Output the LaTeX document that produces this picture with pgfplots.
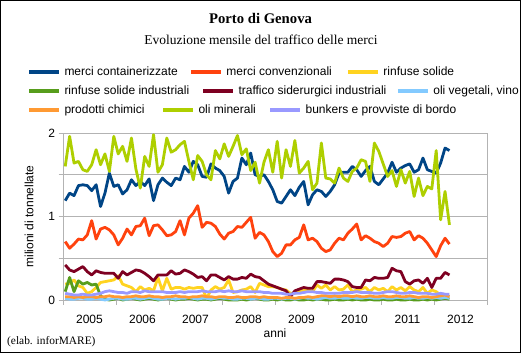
\documentclass[border=0pt]{standalone}
\usepackage{fontspec}
\setmainfont{Liberation Serif}
\newfontfamily\arial{Liberation Sans}
\usepackage{pgfplots}
\pgfplotsset{compat=1.18}
\usepackage{pgfplotstable}
\definecolor{cco}{HTML}{004586}
\definecolor{ccv}{HTML}{FF420E}
\definecolor{crs}{HTML}{FFD320}
\definecolor{crsi}{HTML}{579D1C}
\definecolor{cts}{HTML}{7E0021}
\definecolor{cov}{HTML}{83CAFF}
\definecolor{cpc}{HTML}{FF9A33}
\definecolor{com}{HTML}{AECF00}
\definecolor{cbk}{HTML}{9999FF}
\definecolor{gridgray}{HTML}{B3B3B3}
\newcommand{\arialf}{\arial\fontsize{12bp}{14bp}\selectfont}
\pgfplotstableread{
i co cv rs rsi ts ov pc om bk
0 1.19 0.70 0.19 0.10 0.42 0.02 0.04 1.60 0.08
1 1.28 0.62 0.20 0.27 0.36 0.01 0.04 1.96 0.07
2 1.25 0.67 0.24 0.10 0.34 0.01 0.03 1.64 0.06
3 1.37 0.73 0.17 0.23 0.37 0.02 0.04 1.66 0.06
4 1.38 0.72 0.15 0.19 0.40 0.02 0.03 1.56 0.07
5 1.37 0.78 0.08 0.21 0.34 0.01 0.04 1.54 0.06
6 1.31 0.95 0.10 0.18 0.30 0.01 0.04 1.62 0.06
7 1.38 0.73 0.15 0.19 0.35 0.02 0.03 1.80 0.07
8 1.12 0.85 0.21 0.05 0.33 0.01 0.04 1.62 0.08
9 1.28 0.87 0.22 0.01 0.32 0.00 0.04 1.75 0.10
10 1.52 0.84 0.23 0.00 0.32 0.01 0.05 1.54 0.11
11 1.36 0.78 0.24 0.01 0.32 0.02 0.04 1.96 0.10
12 1.38 0.66 0.29 0.02 0.26 0.02 0.04 1.75 0.09
13 1.27 0.74 0.19 0.00 0.34 0.01 0.03 1.84 0.09
14 1.32 0.85 0.17 0.01 0.30 0.01 0.04 1.66 0.08
15 1.44 0.78 0.15 0.02 0.33 0.02 0.04 1.94 0.10
16 1.37 0.88 0.10 0.01 0.36 0.02 0.05 1.57 0.10
17 1.42 0.89 0.16 0.00 0.35 0.01 0.04 1.34 0.09
18 1.37 0.98 0.12 0.01 0.32 0.02 0.04 1.72 0.11
19 1.45 0.77 0.14 0.02 0.28 0.03 0.05 1.60 0.10
20 1.19 0.89 0.11 0.01 0.23 0.02 0.04 1.98 0.10
21 1.38 0.90 0.27 0.00 0.30 0.01 0.04 1.53 0.10
22 1.46 0.84 0.11 0.01 0.30 0.01 0.03 1.62 0.10
23 1.41 0.77 0.26 0.02 0.30 0.02 0.04 1.94 0.09
24 1.37 0.78 0.13 0.01 0.35 0.02 0.04 1.77 0.09
25 1.46 0.82 0.15 0.00 0.31 0.01 0.05 1.80 0.09
26 1.44 0.95 0.15 0.01 0.32 0.02 0.04 1.86 0.10
27 1.60 0.78 0.13 0.01 0.36 0.02 0.04 1.90 0.09
28 1.53 0.98 0.15 0.02 0.34 0.03 0.03 1.66 0.10
29 1.66 1.04 0.14 0.01 0.31 0.02 0.04 1.44 0.10
30 1.62 1.13 0.15 0.00 0.27 0.01 0.04 1.73 0.10
31 1.48 0.87 0.15 0.01 0.28 0.02 0.05 1.66 0.11
32 1.47 0.93 0.02 0.01 0.23 0.02 0.04 1.50 0.10
33 1.63 0.92 0.12 0.00 0.30 0.01 0.04 1.44 0.10
34 1.58 0.88 0.16 0.01 0.30 0.02 0.03 1.79 0.10
35 1.55 0.79 0.13 0.02 0.27 0.03 0.04 1.69 0.11
36 1.48 0.73 0.15 0.01 0.24 0.02 0.04 1.87 0.10
37 1.28 0.80 0.24 0.00 0.28 0.02 0.03 1.72 0.11
38 1.42 0.82 0.09 0.00 0.25 0.01 0.03 1.84 0.10
39 1.46 0.88 0.10 0.00 0.25 0.01 0.04 1.97 0.10
40 1.70 0.87 0.12 0.01 0.27 0.02 0.03 1.74 0.11
41 1.62 0.93 0.13 0.00 0.26 0.02 0.03 1.81 0.10
42 1.76 0.99 0.16 0.01 0.31 0.01 0.04 1.55 0.10
43 1.50 0.74 0.09 0.02 0.28 0.02 0.04 1.65 0.10
44 1.48 0.81 0.20 0.01 0.27 0.02 0.03 1.40 0.10
45 1.50 0.78 0.18 0.00 0.23 0.01 0.04 1.65 0.09
46 1.42 0.70 0.16 0.00 0.19 0.01 0.03 1.80 0.09
47 1.32 0.58 0.16 0.01 0.17 0.02 0.03 1.53 0.08
48 1.18 0.52 0.15 0.00 0.15 0.02 0.03 1.90 0.08
49 1.16 0.56 0.13 0.01 0.13 0.01 0.02 1.46 0.08
50 1.24 0.66 0.12 0.00 0.11 0.02 0.03 1.80 0.07
51 1.32 0.66 0.08 0.00 0.04 0.02 0.03 1.60 0.07
52 1.25 0.72 0.08 0.01 0.11 0.01 0.02 1.91 0.08
53 1.35 0.75 0.10 0.00 0.13 0.02 0.03 1.52 0.08
54 1.42 0.90 0.12 0.00 0.15 0.03 0.03 1.58 0.09
55 1.14 0.72 0.12 0.01 0.14 0.02 0.04 1.66 0.10
56 1.26 0.74 0.10 0.00 0.14 0.02 0.03 1.32 0.10
57 1.32 0.70 0.18 0.01 0.22 0.01 0.04 1.40 0.09
58 1.30 0.62 0.14 0.01 0.22 0.02 0.05 1.88 0.09
59 1.24 0.58 0.18 0.00 0.21 0.03 0.05 1.46 0.08
60 1.30 0.60 0.12 0.00 0.20 0.02 0.04 1.45 0.08
61 1.38 0.68 0.16 0.01 0.25 0.02 0.05 1.40 0.08
62 1.52 0.74 0.12 0.00 0.25 0.03 0.04 1.58 0.08
63 1.53 0.72 0.13 0.00 0.24 0.02 0.05 1.46 0.09
64 1.53 0.80 0.18 0.01 0.22 0.02 0.05 1.42 0.09
65 1.60 0.85 0.10 0.00 0.16 0.03 0.04 1.54 0.09
66 1.56 0.91 0.12 0.01 0.15 0.02 0.05 1.58 0.10
67 1.48 0.72 0.13 0.00 0.15 0.02 0.04 1.68 0.09
68 1.55 0.77 0.15 0.00 0.24 0.03 0.04 1.66 0.09
69 1.60 0.74 0.10 0.01 0.23 0.03 0.05 1.42 0.09
70 1.42 0.70 0.15 0.00 0.27 0.02 0.04 1.88 0.08
71 1.38 0.68 0.12 0.00 0.26 0.02 0.04 1.78 0.08
72 1.45 0.64 0.14 0.01 0.26 0.03 0.05 1.63 0.09
73 1.52 0.68 0.10 0.00 0.27 0.02 0.04 1.48 0.10
74 1.65 0.76 0.16 0.00 0.38 0.02 0.04 1.55 0.10
75 1.53 0.75 0.12 0.01 0.35 0.03 0.05 1.36 0.09
76 1.58 0.76 0.15 0.00 0.34 0.03 0.04 1.56 0.08
77 1.61 0.80 0.11 0.00 0.22 0.02 0.04 1.40 0.08
78 1.63 0.82 0.16 0.01 0.19 0.02 0.05 1.54 0.09
79 1.53 0.72 0.12 0.00 0.23 0.03 0.04 1.24 0.09
80 1.56 0.77 0.10 0.00 0.24 0.02 0.03 1.46 0.08
81 1.70 0.74 0.15 0.01 0.20 0.02 0.04 1.25 0.08
82 1.56 0.68 0.08 0.00 0.26 0.03 0.04 1.36 0.08
83 1.54 0.60 0.12 0.01 0.15 0.02 0.03 1.33 0.07
84 1.52 0.52 0.10 0.00 0.26 0.03 0.04 1.79 0.07
85 1.64 0.65 0.06 0.01 0.26 0.02 0.05 0.96 0.08
86 1.82 0.74 0.05 0.02 0.33 0.03 0.06 1.30 0.07
87 1.79 0.67 0.04 0.01 0.30 0.02 0.04 0.90 0.07
}\data
\pgfplotsset{
  legrow/.style={hide axis, scale only axis, width=1bp, height=1bp,
    xmin=0, xmax=1, ymin=0, ymax=1, anchor=west,
    legend columns=-1, legend cell align=left,
    legend image code/.code={\draw[##1, line width=4bp] (0bp,0bp) -- (30bp,0bp);},
    legend style={at={(0,0.5)}, anchor=west, draw=none, fill=none,
      inner sep=0pt, outer sep=0pt, font=\arialf, nodes={inner sep=0pt},
      /tikz/column 1/.style={column sep=3.5bp},
      /tikz/column 3/.style={column sep=3.5bp},
      /tikz/column 5/.style={column sep=3.5bp}}},
}
\begin{document}
\begin{tikzpicture}[x=1bp,y=1bp]
\useasboundingbox (0,0) rectangle (521,353);
\fill[white] (0,0) rectangle (521,353);
\draw[black, line width=1bp] (0.5,0.5) rectangle (520.5,352.5);
\node[font=\fontsize{14.7bp}{17bp}\selectfont\bfseries] at (260.5,335) {Porto di Genova};
\node[font=\fontsize{13.5bp}{16bp}\selectfont] at (261,313) {Evoluzione mensile del traffico delle merci};
\node[font=\fontsize{11.4bp}{13bp}\selectfont, anchor=west, inner sep=0pt] at (7,11) {(elab. inforMARE)};
\begin{axis}[
  at={(63bp,53bp)}, anchor=south west, scale only axis,
  width=424bp, height=167bp,
  xmin=-0.5, xmax=95.5, ymin=0, ymax=2,
  xtick={-0.5,11.5,23.5,35.5,47.5,59.5,71.5,83.5,95.5},
  x tick label as interval,
  xticklabels={2005,2006,2007,2008,2009,2010,2011,2012},
  ytick={0,0.5,1,1.5,2}, yticklabels={0,,1,,2},
  ymajorgrids, major grid style={color=gridgray, line width=1bp},
  axis line style={gridgray, line width=1bp},
  tick style={gridgray, line width=1bp},
  tick align=outside, major tick length=4.5bp, tick pos=left,
  ticklabel style={font=\arialf},
  xticklabel style={yshift=-7bp},
  xlabel={anni}, ylabel={milioni di tonnellate},
  every axis x label/.style={at={(axis description cs:0.5,-0.1976)}, anchor=center, font=\arialf},
  every axis y label/.style={at={(axis description cs:-0.0802,0.5)}, rotate=90, anchor=center, font=\arialf},
  clip=false, no markers,
  every axis plot/.append style={line width=2.8bp, line join=round},
]
\addplot[cco] table[x=i, y=co] {\data};
\addplot[ccv] table[x=i, y=cv] {\data};
\addplot[crs] table[x=i, y=rs] {\data};
\addplot[crsi] table[x=i, y=rsi] {\data};
\addplot[cts] table[x=i, y=ts] {\data};
\addplot[cov] table[x=i, y=ov] {\data};
\addplot[cpc] table[x=i, y=pc] {\data};
\addplot[com] table[x=i, y=om] {\data};
\addplot[cbk] table[x=i, y=bk] {\data};
\end{axis}
\begin{axis}[legrow, at={(27bp,281.3bp)},
  legend style={/tikz/column 2/.style={column sep=11.1bp}, /tikz/column 4/.style={column sep=14.1bp}}]
\addlegendimage{cco}\addlegendentry{merci containerizzate}
\addlegendimage{ccv}\addlegendentry{merci convenzionali}
\addlegendimage{crs}\addlegendentry{rinfuse solide}
\end{axis}
\begin{axis}[legrow, at={(27bp,262.3bp)},
  legend style={/tikz/column 2/.style={column sep=11.8bp}, /tikz/column 4/.style={column sep=9.5bp}}]
\addlegendimage{crsi}\addlegendentry{rinfuse solide industriali}
\addlegendimage{cts}\addlegendentry{traffico siderurgici industriali}
\addlegendimage{cov}\addlegendentry{oli vegetali, vino}
\end{axis}
\begin{axis}[legrow, at={(27bp,243.3bp)},
  legend style={/tikz/column 2/.style={column sep=16.5bp}, /tikz/column 4/.style={column sep=12.2bp}}]
\addlegendimage{cpc}\addlegendentry{prodotti chimici}
\addlegendimage{com}\addlegendentry{oli minerali}
\addlegendimage{cbk}\addlegendentry{bunkers e provviste di bordo}
\end{axis}
\end{tikzpicture}
\end{document}
